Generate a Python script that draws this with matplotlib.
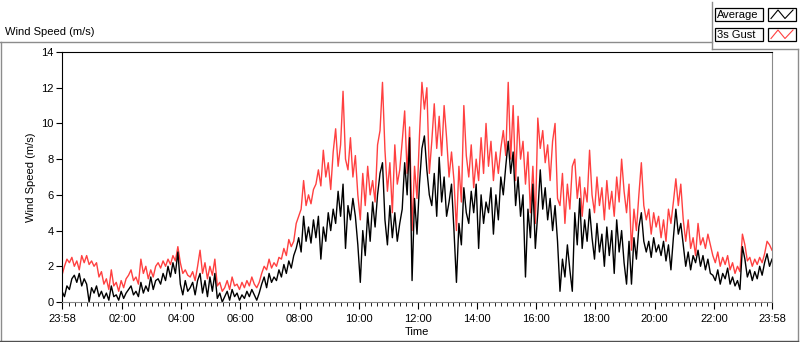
import numpy as np
import matplotlib
matplotlib.use('Agg')
import matplotlib.pyplot as plt
from matplotlib.patches import Rectangle

plt.rcParams['font.family'] = ['Liberation Sans', 'DejaVu Sans']
plt.rcParams['font.size'] = 8

# wind speed, one value every 5 minutes from 23:58 to 23:58
gust = [
    1.5, 2.0, 2.4, 2.2, 2.5,
    2.0, 2.3, 1.8, 2.6, 2.2, 2.6,
    2.1, 2.3, 2.0, 2.2, 1.4, 1.7,
    1.0, 1.3, 0.7, 1.8, 0.9, 1.1, 0.6, 1.2,
    0.8, 1.3, 1.5, 1.8, 1.2, 1.4, 1.0,
    2.4, 1.6, 2.0, 1.3, 1.8, 1.4, 2.0,
    2.2, 1.9, 2.3, 2.0, 2.4, 2.1, 2.6, 2.3,
    3.1, 2.2, 1.6, 1.8, 1.5,
    1.4, 1.7, 1.2, 2.0, 2.9,
    1.6, 2.2, 1.3, 2.0, 1.5, 2.4,
    0.9, 1.1, 0.6, 0.8, 1.2, 0.7, 1.4, 0.9, 1.0, 0.7, 1.1, 0.8, 1.2, 0.9, 1.4, 1.0, 0.8, 1.1,
    1.6, 2.0, 1.8, 2.4, 1.9, 2.2, 2.0, 2.5,
    2.4, 3.0, 2.6, 3.5, 3.1, 3.4,
    4.4, 4.8, 5.2, 6.8, 5.4, 6.0, 5.5, 6.3,
    6.6, 7.4, 6.5, 8.5, 7.0, 7.8, 6.3,
    8.4, 9.7, 7.6, 8.8, 11.8,
    8.0, 7.4, 9.2, 7.0, 8.2,
    6.0, 4.6, 7.2, 5.4, 7.6, 6.0, 6.8, 5.6,
    8.8, 9.6, 12.3,
    8.5, 6.2, 7.8, 5.0, 8.8, 6.6, 7.4, 9.0,
    10.7, 7.2, 9.8,
    4.0, 7.6, 5.8, 9.3,
    12.3, 10.8, 12.0, 7.2,
    9.0, 11.1, 8.6, 10.4, 8.2, 11.0, 9.2,
    7.0, 8.4, 6.8, 4.0, 7.6, 5.6,
    11.0, 8.2,
    7.0, 8.8, 6.4, 8.0, 6.8, 9.2, 7.2, 10.0,
    7.6, 9.0, 6.8, 8.4, 7.2, 8.6,
    9.6, 8.2, 12.3, 8.0, 11.0, 6.8, 10.4, 8.0, 9.0,
    6.6, 8.4, 5.0, 7.6, 4.4, 10.3,
    8.6, 9.6, 7.8, 8.8, 6.8,
    9.0, 10.0, 5.8,
    5.4, 7.2, 4.4, 6.6, 5.2, 7.6,
    8.0, 5.8, 7.0, 4.8, 6.4, 5.6, 8.5,
    6.0, 5.0, 7.0, 5.4, 6.4, 4.6, 6.8, 5.2, 6.2, 4.8, 7.0, 5.6,
    8.0,
    6.2, 5.0, 6.6, 2.9, 5.2, 4.0, 6.0,
    7.8, 5.4,
    4.6, 5.2, 3.8, 5.0, 4.2, 4.8,
    3.6, 4.6, 3.4, 5.2, 4.4, 5.6,
    6.9,
    5.4, 6.6, 4.6,
    3.4, 4.6, 3.0, 3.6, 2.6,
    4.4,
    3.2, 3.6, 3.0, 3.8, 3.2,
    2.6, 2.2, 2.8, 2.0, 2.5, 2.1, 2.6,
    1.8, 2.2, 1.6, 2.0, 1.7,
    3.8, 3.2,
    2.3, 2.5, 2.0, 2.4, 2.1, 2.5, 2.2,
    2.7, 3.4, 3.2, 2.9,
]

average = [
    0.6, 0.3, 0.9, 0.7, 1.3,
    1.5, 1.1, 1.6, 0.9, 1.3, 1.0,
    0.0, 0.8, 0.5, 0.9, 0.3, 0.6,
    0.2, 0.5, 0.1, 0.9, 0.3, 0.4, 0.1, 0.6,
    0.2, 0.5, 0.7, 0.9, 0.4, 0.6, 0.3,
    1.1, 0.5, 0.9, 0.6, 1.4, 0.7, 1.2,
    1.3, 1.0, 1.6, 1.2, 2.0, 1.4, 2.2, 1.6,
    2.8, 1.0, 0.4, 1.2, 0.6,
    0.8, 1.1, 0.4, 1.2, 1.6,
    0.5, 1.2, 0.3, 1.4, 0.6, 1.6,
    0.2, 0.5, 0.0, 0.3, 0.6, 0.1, 0.7, 0.3, 0.5, 0.1, 0.4, 0.2, 0.6, 0.3, 0.7, 0.4, 0.1, 0.5,
    1.0, 1.4, 0.8, 1.6, 1.1, 1.4, 1.2, 1.8,
    1.4, 2.1, 1.6, 2.3, 1.9, 2.6,
    3.0, 3.6, 2.8, 4.8, 3.4, 4.2, 3.3, 4.6,
    3.6, 4.8, 2.4, 4.2, 3.4, 5.0, 4.0,
    5.2, 4.4, 6.2, 4.8, 6.6,
    3.0, 5.4, 4.6, 5.8, 4.8,
    3.2, 1.1, 4.0, 2.6, 5.0, 3.4, 5.6, 4.2,
    6.0, 7.2, 7.8,
    4.6, 3.2, 5.4, 3.6, 5.0, 3.4, 4.4, 5.2,
    7.8, 6.0, 9.2,
    1.2, 5.8, 3.8, 6.6,
    8.6, 9.3, 7.4, 6.0,
    5.4, 7.2, 4.8, 8.1, 5.6, 7.0, 4.8,
    5.6, 6.6, 4.0, 1.1, 4.4, 3.2,
    6.4, 5.0,
    4.4, 6.2, 5.0, 6.6, 3.0, 6.0, 4.4, 5.6,
    5.0, 6.4, 3.8, 6.0, 4.6, 7.0,
    6.0, 7.6, 9.0, 7.2, 8.4, 5.4, 7.0, 4.8, 6.0,
    1.4, 5.2, 3.6, 6.6, 3.0, 5.0,
    7.4, 5.2, 6.4, 4.6, 5.8,
    4.0, 5.4, 3.4,
    0.6, 2.4, 1.4, 3.2, 1.8, 0.6,
    5.0, 3.2, 5.8, 3.0, 4.6, 3.4, 5.2,
    3.6, 2.4, 4.4, 2.8, 3.8, 2.0, 4.2, 2.6, 4.0, 1.6, 4.6, 2.8,
    4.0,
    2.2, 1.0, 3.4, 1.0, 3.6, 2.4, 4.2,
    5.0, 3.4,
    2.8, 3.4, 2.5, 3.6, 2.8, 3.2,
    2.6, 3.4, 2.3, 3.2, 1.8, 3.6,
    5.2,
    3.8, 4.4, 3.2,
    2.0, 2.8, 1.8, 2.6, 2.2,
    2.9,
    2.0, 2.6, 1.8, 2.4, 1.6,
    1.5, 1.2, 1.8, 1.0, 1.6, 1.3, 1.9,
    1.0, 1.4, 0.9, 1.2, 0.7,
    3.1, 2.4,
    1.4, 1.8, 1.2, 1.7, 1.3, 2.0, 1.5,
    2.2, 2.7, 2.0, 2.4,
]

# minutes after midnight, first sample at 23:58 of the day before
minutes = np.arange(len(gust)) * 5 - 2

tick_pos = [-2, 120, 240, 360, 480, 600, 720, 840, 960, 1080, 1200, 1320, 1438]
tick_labels = ['23:58', '02:00', '04:00', '06:00', '08:00', '10:00', '12:00',
               '14:00', '16:00', '18:00', '20:00', '22:00', '23:58']

fig = plt.figure(figsize=(8, 3.42), dpi=100)
ax = fig.add_axes([62/800, 40/342, 710/800, 250/342])

ax.plot(minutes, gust, color='#ff4040', lw=1.0)
ax.plot(minutes, average, color='black', lw=1.0)

ax.set_xlim(-2, 1438)
ax.set_ylim(0, 14)
ax.set_yticks(range(0, 15, 2))
ax.set_xticks(tick_pos)
ax.set_xticklabels(tick_labels)
minor = [m for m in range(12, 1438, 12) if m % 120 != 0]
ax.set_xticks(minor, minor=True)
ax.tick_params(axis='y', length=4, pad=2)
ax.tick_params(axis='x', which='major', length=5, pad=4)
ax.tick_params(axis='x', which='minor', length=3)
ax.set_xlabel('Time', labelpad=2)
ax.set_ylabel('Wind Speed (m/s)', labelpad=4)

ax.spines['top'].set_color('black')
ax.spines['left'].set_color('black')
ax.spines['bottom'].set_color('#8a8a8a')
ax.spines['right'].set_color('#8a8a8a')

# frame, title and legend drawn in pixel coordinates on an overlay
over = fig.add_axes([0, 0, 1, 1], zorder=5)
over.set_xlim(0, 800)
over.set_ylim(342, 0)
over.axis('off')

frame = '#8c8c8c'
over.plot([0, 712], [42, 42], color=frame, lw=1)
over.plot([712, 712], [2, 49], color=frame, lw=1)
over.plot([712, 798], [49, 49], color=frame, lw=1)
over.plot([798, 798], [49, 341], color=frame, lw=1)
over.plot([0.5, 0.5], [42, 341], color=frame, lw=1)
over.plot([0, 798], [340.5, 340.5], color='#505050', lw=1)

over.text(5, 32, 'Wind Speed (m/s)', va='center', ha='left')

legend_names = ['Average', '3s Gust']
legend_colors = ['black', '#ff4040']
for k in range(2):
    y0 = 8 + 20 * k
    over.add_patch(Rectangle((715, y0), 48, 12.5, facecolor='#fbfbfb',
                             edgecolor='black', lw=0.9))
    over.text(717, y0 + 6.5, legend_names[k], va='center', ha='left')
    over.add_patch(Rectangle((768, y0), 28, 12.5, facecolor='white',
                             edgecolor='black', lw=0.9))
    over.plot([771, 778, 785, 793], [y0 + 10.5, y0 + 2, y0 + 10.5, y0 + 2],
              color=legend_colors[k], lw=0.8)

fig.savefig('out.png', dpi=100)
